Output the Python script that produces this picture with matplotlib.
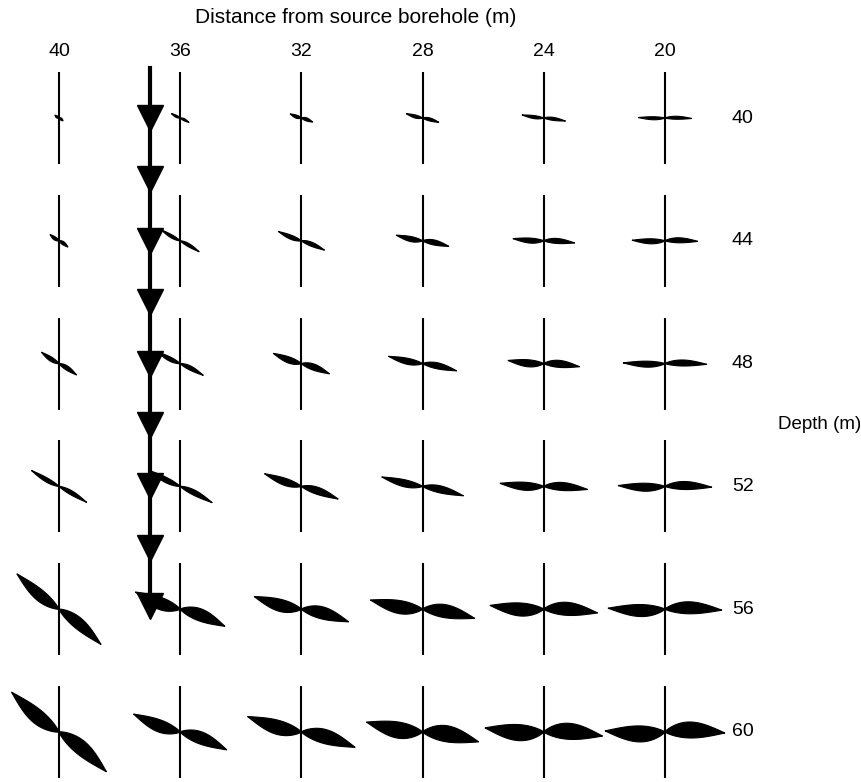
import numpy as np
import matplotlib.pyplot as plt

plt.rcParams['font.family'] = ['Liberation Sans', 'DejaVu Sans']

# receiver grid
distances = [40, 36, 32, 28, 24, 20]          # m from source borehole
depths = [40, 44, 48, 52, 56, 60]             # m

# polarisation tilt (deg, right end down), one row per depth
tilt = np.array([
    [35, 27, 20, 15, 8, 1],
    [35, 30, 22, 12, 4, 1],
    [33, 27, 20, 12, 5, 1],
    [30, 27, 19, 13, 4, 1],
    [40, 21, 15, 10, 4, 1],
    [40, 21, 16, 10, 4, 1],
])
# half length of the particle-motion lobes
amp = np.array([
    [5, 10, 12, 17, 22, 27],
    [11, 22, 25, 27, 31, 33],
    [21, 26, 30, 35, 36, 42],
    [32, 36, 39, 42, 44, 47],
    [55, 48, 49, 53, 54, 57],
    [62, 50, 56, 57, 59, 60],
])
# lobe thickness
thick = np.array([
    [2, 2, 3, 3, 3, 3],
    [3, 3, 4, 5, 5, 5],
    [4, 4, 6, 6, 7, 6],
    [4, 5, 7, 7, 8, 8],
    [11, 12, 12, 13, 13, 12],
    [14, 12, 14, 16, 16, 16],
])

# source string
source_dist = 37.0
source_marks = [40.0, 42.0, 44.0, 46.0, 48.0, 50.0, 52.0, 54.0, 55.9]

# pixels per metre on the page
sx = 30.3
sy = 30.7

fig = plt.figure(figsize=(8.61, 7.82), dpi=100)
ax = fig.add_axes([0, 0, 1, 1])
ax.set_xlim(41.947, 13.53)
ax.set_ylim(61.63, 36.156)
ax.axis('off')


def lobes(d0, z0, ang, L, W):
    t = np.radians(ang)
    e = np.array([np.cos(t), np.sin(t)])
    n = np.array([-np.sin(t), np.cos(t)])
    u = np.linspace(-L, L, 201)
    s = np.abs(u) / L
    h = W / 2 * np.sin(np.pi * s ** 0.8)
    off = -np.sign(u) * 0.3 * h
    top = u[:, None] * e + (off - h)[:, None] * n
    bot = u[:, None] * e + (off + h)[:, None] * n
    pts = np.vstack([top, bot[::-1]])
    return d0 - pts[:, 0] / sx, z0 + pts[:, 1] / sy


for i, z in enumerate(depths):
    for j, d in enumerate(distances):
        ax.plot([d, d], [z - 46 / sy, z + 46 / sy], color='black', lw=1.5,
                solid_capstyle='butt')
        px, pz = lobes(d, z, tilt[i, j], amp[i, j], max(thick[i, j], 1.5))
        ax.fill(px, pz, color='black', lw=0.8, ec='black')

# source line with downward arrows
ax.plot([source_dist, source_dist], [38.37, 55.9], color='black', lw=3)
ax.plot([source_dist] * len(source_marks), source_marks, ls='none',
        marker='v', markersize=19, color='black')

for d in distances:
    ax.text(d, 36.156 + 52 / sy, str(d), ha='center', va='center', fontsize=14)
for z in depths:
    ax.text(41.947 - 732 / sx, z, str(z), ha='left', va='center', fontsize=14)

ax.text(41.947 - 356 / sx, 36.156 + 18 / sy, 'Distance from source borehole (m)',
        ha='center', va='center', fontsize=15)
ax.text(41.947 - 778 / sx, 36.156 + 425 / sy, 'Depth (m)',
        ha='left', va='center', fontsize=13.5)

fig.savefig('out.png', dpi=100)
